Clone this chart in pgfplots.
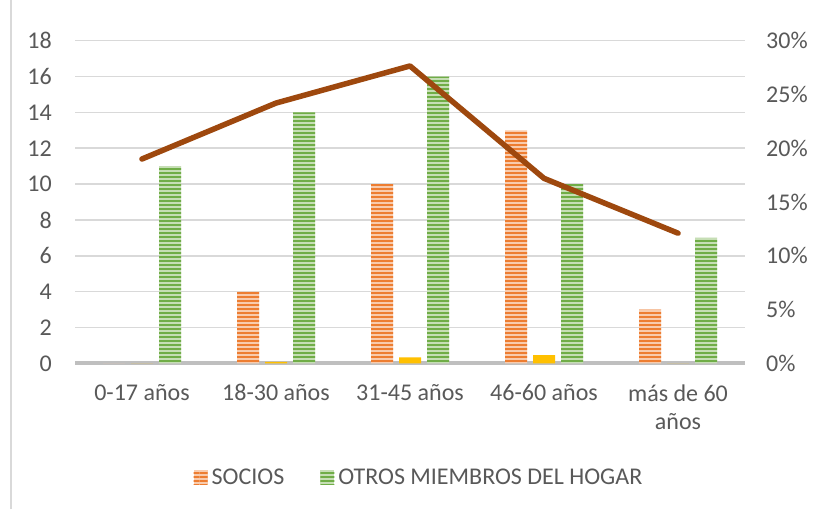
\documentclass[border=0pt]{standalone}
\usepackage{fontspec}
\setmainfont{Carlito}
\usepackage{pgfplots}
\pgfplotsset{compat=1.18}
\usetikzlibrary{patterns}
\pgfdeclarepatternformonly{hstripes}{\pgfpoint{0pt}{0pt}}{\pgfpoint{200pt}{4pt}}{\pgfpoint{200pt}{4pt}}{%
  \pgfpathrectangle{\pgfpoint{0pt}{0pt}}{\pgfpoint{200pt}{2.2pt}}\pgfusepath{fill}}
\definecolor{socio}{HTML}{ED7D31}
\definecolor{otros}{HTML}{70AD47}
\definecolor{amar}{HTML}{FFC000}
\definecolor{linea}{HTML}{9E480E}
\definecolor{gridc}{HTML}{D9D9D9}
\definecolor{axisc}{HTML}{BFBFBF}
\definecolor{txt}{HTML}{595959}
\pgfplotsset{sqlegend/.style={legend image code/.code={\fill[##1] (0pt,-7pt) rectangle (14pt,7pt);}}}
\begin{document}
\begin{tikzpicture}[x=1pt,y=1pt,font=\fontsize{24}{28}\selectfont]
\useasboundingbox (0,0) rectangle (816,509);
\fill[white] (0,0) rectangle (816,509);
\draw[gridc, line width=1.5pt] (11,0) -- (11,509);
\begin{axis}[
  at={(75pt,145.7pt)}, anchor=south west,
  scale only axis, width=670pt, height=322.6pt,
  xmin=-0.5, xmax=4.5, ymin=0, ymax=18,
  xtick={0,1,2,3,4},
  xticklabels={0-17 años,18-30 años,31-45 años,46-60 años,{más de 60\\años}},
  ytick={0,2,...,18},
  ymajorgrids, grid style={gridc, line width=1.5pt},
  axis lines*=left,
  x axis line style={axisc, line width=4pt},
  y axis line style={draw=none},
  major tick length=0pt,
  /pgf/number format/assume math mode=true,
  tick label style={text=txt, font=\fontsize{24}{28}\selectfont, inner sep=0pt},
  xticklabel style={align=center, anchor=north, yshift=-21pt},
  yticklabel style={anchor=east, xshift=-23pt},
  legend style={at={(0.512,-0.3525)}, anchor=center, draw=none, fill=none,
    legend columns=2, text=txt, font=\fontsize{24}{28}\selectfont,
    nodes={inner sep=0pt},
    /tikz/every odd column/.append style={column sep=4pt},
    /tikz/every even column/.append style={column sep=36pt}},
]
\addplot[ybar, bar width=22pt, bar shift=-28pt, draw=none, fill=socio!40!white,
  postaction={pattern=hstripes, pattern color=socio}, sqlegend]
  coordinates {(0,0) (1,4) (2,10) (3,13) (4,3)};
\addlegendentry{SOCIOS}
\addplot[ybar, bar width=22pt, bar shift=28pt, draw=none, fill=otros!40!white,
  postaction={pattern=hstripes, pattern color=otros}, sqlegend]
  coordinates {(0,11) (1,14) (2,16) (3,10) (4,7)};
\addlegendentry{OTROS MIEMBROS DEL HOGAR}
\addplot[ybar, bar width=22pt, bar shift=0pt, draw=none, fill=amar, forget plot]
  coordinates {(0,0) (1,0.08) (2,0.33) (3,0.45) (4,0)};
\end{axis}
\begin{axis}[
  at={(75pt,145.7pt)}, anchor=south west,
  scale only axis, width=670pt, height=322.6pt,
  xmin=-0.5, xmax=4.5, ymin=0, ymax=30,
  axis x line=none, axis y line*=right,
  y axis line style={draw=none},
  major tick length=0pt,
  ytick={0,5,...,30},
  /pgf/number format/assume math mode=true,
  yticklabel={\pgfmathprintnumber{\tick}\%},
  tick label style={text=txt, font=\fontsize{24}{28}\selectfont, inner sep=0pt},
  yticklabel style={anchor=west, xshift=21pt},
]
\addplot[linea, line width=5.5pt, line cap=round, line join=round]
  coordinates {(0,19.0) (1,24.2) (2,27.65) (3,17.2) (4,12.1)};
\end{axis}
\end{tikzpicture}
\end{document}
